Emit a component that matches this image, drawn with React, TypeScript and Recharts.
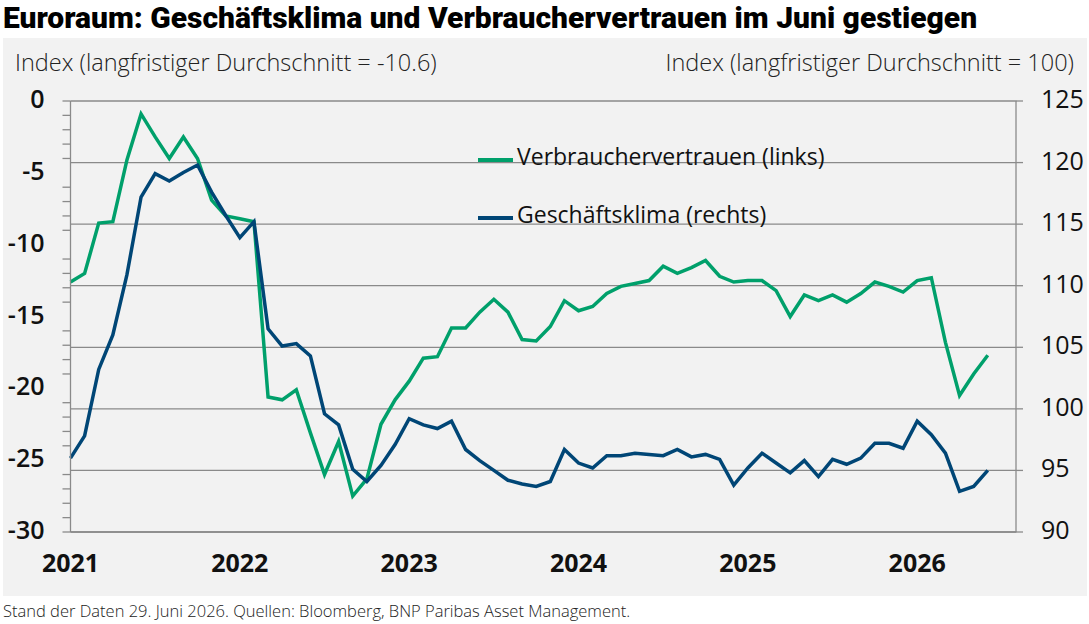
import React from 'react';
import { LineChart, Line, XAxis, YAxis, CartesianGrid, Legend } from 'recharts';

// Monthly observations, Jan 2021 .. Jun 2026
const consumerConfidence: number[] = [
  -12.6, -12.0, -8.5, -8.4, -4.1, -0.9, -2.5, -4.0, -2.5, -4.0, -6.9, -8.0,
  -8.2, -8.4, -20.6, -20.8, -20.1, -23.1, -26.0, -23.7, -27.5, -26.3, -22.5, -20.8,
  -19.5, -17.9, -17.8, -15.8, -15.8, -14.7, -13.8, -14.7, -16.6, -16.7, -15.7, -13.9,
  -14.6, -14.3, -13.4, -12.9, -12.7, -12.5, -11.5, -12.0, -11.6, -11.1, -12.2, -12.6,
  -12.5, -12.5, -13.2, -15.0, -13.5, -13.9, -13.5, -14.0, -13.4, -12.6, -12.9, -13.3,
  -12.5, -12.3, -16.8, -20.5, -19.0, -17.7,
];

const businessClimate: number[] = [
  96.0, 97.8, 103.2, 106.0, 110.9, 117.2, 119.1, 118.5, 119.2, 119.8, 117.6, 115.7,
  113.9, 115.2, 106.5, 105.1, 105.3, 104.3, 99.6, 98.7, 95.1, 94.1, 95.4, 97.1,
  99.2, 98.7, 98.4, 99.0, 96.7, 95.8, 95.0, 94.2, 93.9, 93.7, 94.1, 96.7,
  95.6, 95.2, 96.2, 96.2, 96.4, 96.3, 96.2, 96.7, 96.1, 96.3, 95.9, 93.8,
  95.2, 96.4, 95.6, 94.8, 95.8, 94.5, 95.9, 95.5, 96.0, 97.2, 97.2, 96.8,
  99.0, 97.9, 96.4, 93.3, 93.7, 95.0,
];

const yearTicks: number[] = [0, 12, 24, 36, 48, 60];
const yearLabels: string[] = ['2021', '2022', '2023', '2024', '2025', '2026'];
const leftTicks: number[] = Array.from({ length: 31 }, (_, k) => k - 30);
const rightTicks: number[] = [90, 95, 100, 105, 110, 115, 120, 125];
const seriesOrder: string[] = ['verbraucher', 'geschaeft'];

const data = consumerConfidence.map((v, i) => ({
  t: i,
  verbraucher: v,
  geschaeft: businessClimate[i],
}));

const GREEN = '#00A06B';
const BLUE = '#004676';
const GRID = '#8a8a8a';
const FONT = '"Open Sans", sans-serif';
const TEXT = '#111';

const LeftTick = (props: any) => {
  const { x, y, payload } = props;
  const v = payload.value as number;
  const major = v % 5 === 0;
  return (
    <g>
      {(!major || v === 0 || v === -30) && (
        <line x1={x - 8} x2={x} y1={y} y2={y} stroke={GRID} strokeWidth={1.3} />
      )}
      {major && (
        <text x={x - 26} y={y + 7} textAnchor="end" fontSize={25} fontWeight={600} fill={TEXT} fontFamily={FONT}>
          {v}
        </text>
      )}
    </g>
  );
};

const RightTick = (props: any) => {
  const { x, y, payload } = props;
  return (
    <text x={x} y={y + 7} textAnchor="start" fontSize={25} fontWeight={400} fill={TEXT} fontFamily={FONT}>
      {payload.value}
    </text>
  );
};

const BottomTick = (props: any) => {
  const { x, y, payload } = props;
  const idx = yearTicks.indexOf(payload.value);
  return (
    <text x={x} y={y + 40} textAnchor="middle" fontSize={25} fontWeight={700} fill={TEXT} fontFamily={FONT}>
      {yearLabels[idx]}
    </text>
  );
};

const TopTick = (props: any) => {
  const { x, y } = props;
  return <line x1={x} x2={x} y1={y} y2={y + 7} stroke={GRID} strokeWidth={1.3} />;
};

const LegendContent = (props: any) => {
  const { payload } = props;
  const items = [...(payload || [])].sort(
    (a: any, b: any) => seriesOrder.indexOf(a.dataKey) - seriesOrder.indexOf(b.dataKey)
  );
  return (
    <div style={{ fontFamily: FONT }}>
      {items.map((e: any, i: number) => (
        <div key={i} style={{ display: 'flex', alignItems: 'center', height: 30, marginBottom: 28 }}>
          <div style={{ width: 35, height: 4, background: e.color, marginTop: 7, marginRight: 4 }} />
          <span style={{ fontSize: 23, fontWeight: 500, color: TEXT, lineHeight: '30px', whiteSpace: 'nowrap' }}>{e.value}</span>
        </div>
      ))}
    </div>
  );
};

export default function App() {
  return (
    <div style={{ position: 'fixed', left: 0, top: 0, width: 1089, height: 624, background: '#fff', overflow: 'hidden' }}>
      <svg width={1089} height={624} style={{ position: 'absolute', left: 0, top: 0 }}>
        <rect x={3} y={38} width={1084} height={558} fill="#f2f2f2" />
        <text x={3} y={28} fontSize={30} fontWeight={900} fontFamily="Roboto, sans-serif" fill="#000">
          Euroraum: Geschäftsklima und Verbrauchervertrauen im Juni gestiegen
        </text>
        <text x={15} y={71} fontSize={23.5} fontWeight={300} fontFamily={FONT} fill="#222">
          Index (langfristiger Durchschnitt = -10.6)
        </text>
        <text x={1074} y={71} textAnchor="end" fontSize={23.5} fontWeight={300} fontFamily={FONT} fill="#222">
          Index (langfristiger Durchschnitt = 100)
        </text>
        <text x={3} y={617} fontSize={16.5} fontWeight={300} fontFamily={FONT} fill="#222">
          Stand der Daten 29. Juni 2026. Quellen: Bloomberg, BNP Paribas Asset Management.
        </text>
      </svg>
      <div style={{ position: 'absolute', left: 0, top: 0 }}>
        <LineChart width={1089} height={624} data={data} margin={{ top: 101, right: 0, bottom: 32, left: 0 }}>
          <CartesianGrid yAxisId="right" vertical={false} stroke={GRID} strokeWidth={1.3} />
          <XAxis
            dataKey="t"
            type="number"
            domain={[0, 67]}
            ticks={yearTicks}
            interval={0}
            height={60}
            stroke={GRID}
            strokeWidth={1.3}
            tickLine={false}
            tickSize={0}
            tickMargin={0}
            tick={<BottomTick />}
          />
          <XAxis
            xAxisId="top"
            orientation="top"
            dataKey="t"
            type="number"
            domain={[0, 67]}
            ticks={yearTicks}
            interval={0}
            height={0}
            axisLine={false}
            tickLine={false}
            tickSize={0}
            tickMargin={0}
            tick={<TopTick />}
          />
          <YAxis
            yAxisId="left"
            orientation="left"
            domain={[-30, 0]}
            ticks={leftTicks}
            interval={0}
            width={70.5}
            stroke={GRID}
            strokeWidth={1.3}
            tickLine={false}
            tickSize={0}
            tickMargin={0}
            tick={<LeftTick />}
          />
          <YAxis
            yAxisId="right"
            orientation="right"
            domain={[90, 125]}
            ticks={rightTicks}
            interval={0}
            width={73}
            stroke={GRID}
            strokeWidth={1.3}
            tickSize={7}
            tickMargin={18}
            tick={<RightTick />}
          />
          <Legend
            layout="horizontal"
            verticalAlign="middle"
            align="center"
            content={<LegendContent />}
            wrapperStyle={{ position: 'absolute', left: 478, top: 141, width: 'auto', bottom: 'auto', right: 'auto' }}
          />
          <Line
            yAxisId="left"
            type="linear"
            dataKey="verbraucher"
            name="Verbrauchervertrauen (links)"
            stroke={GREEN}
            strokeWidth={3.5}
            dot={false}
            isAnimationActive={false}
          />
          <Line
            yAxisId="right"
            type="linear"
            dataKey="geschaeft"
            name="Geschäftsklima (rechts)"
            stroke={BLUE}
            strokeWidth={3.5}
            dot={false}
            isAnimationActive={false}
          />
        </LineChart>
      </div>
    </div>
  );
}
